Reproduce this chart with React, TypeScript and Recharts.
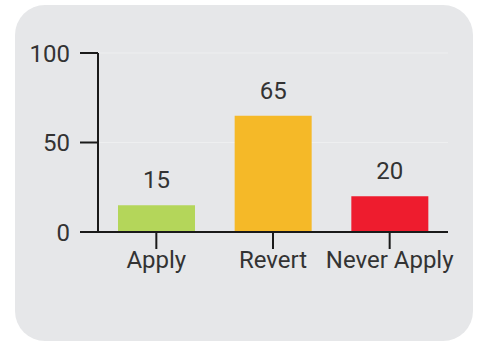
import { BarChart, Bar, XAxis, YAxis, CartesianGrid, Cell, LabelList } from "recharts"

const categories = ["Apply", "Revert", "Never Apply"]
const shares = [15, 65, 20]
const barColors = ["#b4d65a", "#f5b928", "#ee1c2e"]
const yTicks = [0, 50, 100]

const chartData = categories.map((name, i) => ({ name, value: shares[i] }))

const tickStyle = { fill: "#333", fontSize: 24, fontFamily: "Roboto" }

export default function App() {
  return (
    <div style={{ position: "absolute", left: 0, top: 0, width: 479, height: 341, background: "#fff", overflow: "hidden" }}>
      <div
        style={{
          position: "absolute",
          left: 15,
          top: 5,
          width: 458,
          height: 336,
          borderRadius: 30,
          background: "#e6e7e9",
        }}
      />
      <div style={{ position: "absolute", left: 0, top: 0 }}>
        <BarChart width={479} height={341} data={chartData} margin={{ top: 53, right: 31, bottom: 0, left: 0 }}>
          <CartesianGrid vertical={false} stroke="#eeeff0" />
          <XAxis
            dataKey="name"
            axisLine={{ stroke: "#1a1a1a", strokeWidth: 2 }}
            tickLine={{ stroke: "#1a1a1a", strokeWidth: 2 }}
            tickSize={17}
            tickMargin={2}
            height={109}
            tick={tickStyle}
            interval={0}
          />
          <YAxis
            domain={[0, 100]}
            ticks={yTicks}
            width={98}
            axisLine={{ stroke: "#1a1a1a", strokeWidth: 2 }}
            tickLine={{ stroke: "#1a1a1a", strokeWidth: 2 }}
            tickSize={18}
            tickMargin={10}
            tick={tickStyle}
          />
          <Bar dataKey="value" barSize={77} isAnimationActive={false}>
            {chartData.map((d, i) => (
              <Cell key={d.name} fill={barColors[i]} />
            ))}
            <LabelList dataKey="value" position="top" offset={17} style={tickStyle} />
          </Bar>
        </BarChart>
      </div>
    </div>
  )
}
